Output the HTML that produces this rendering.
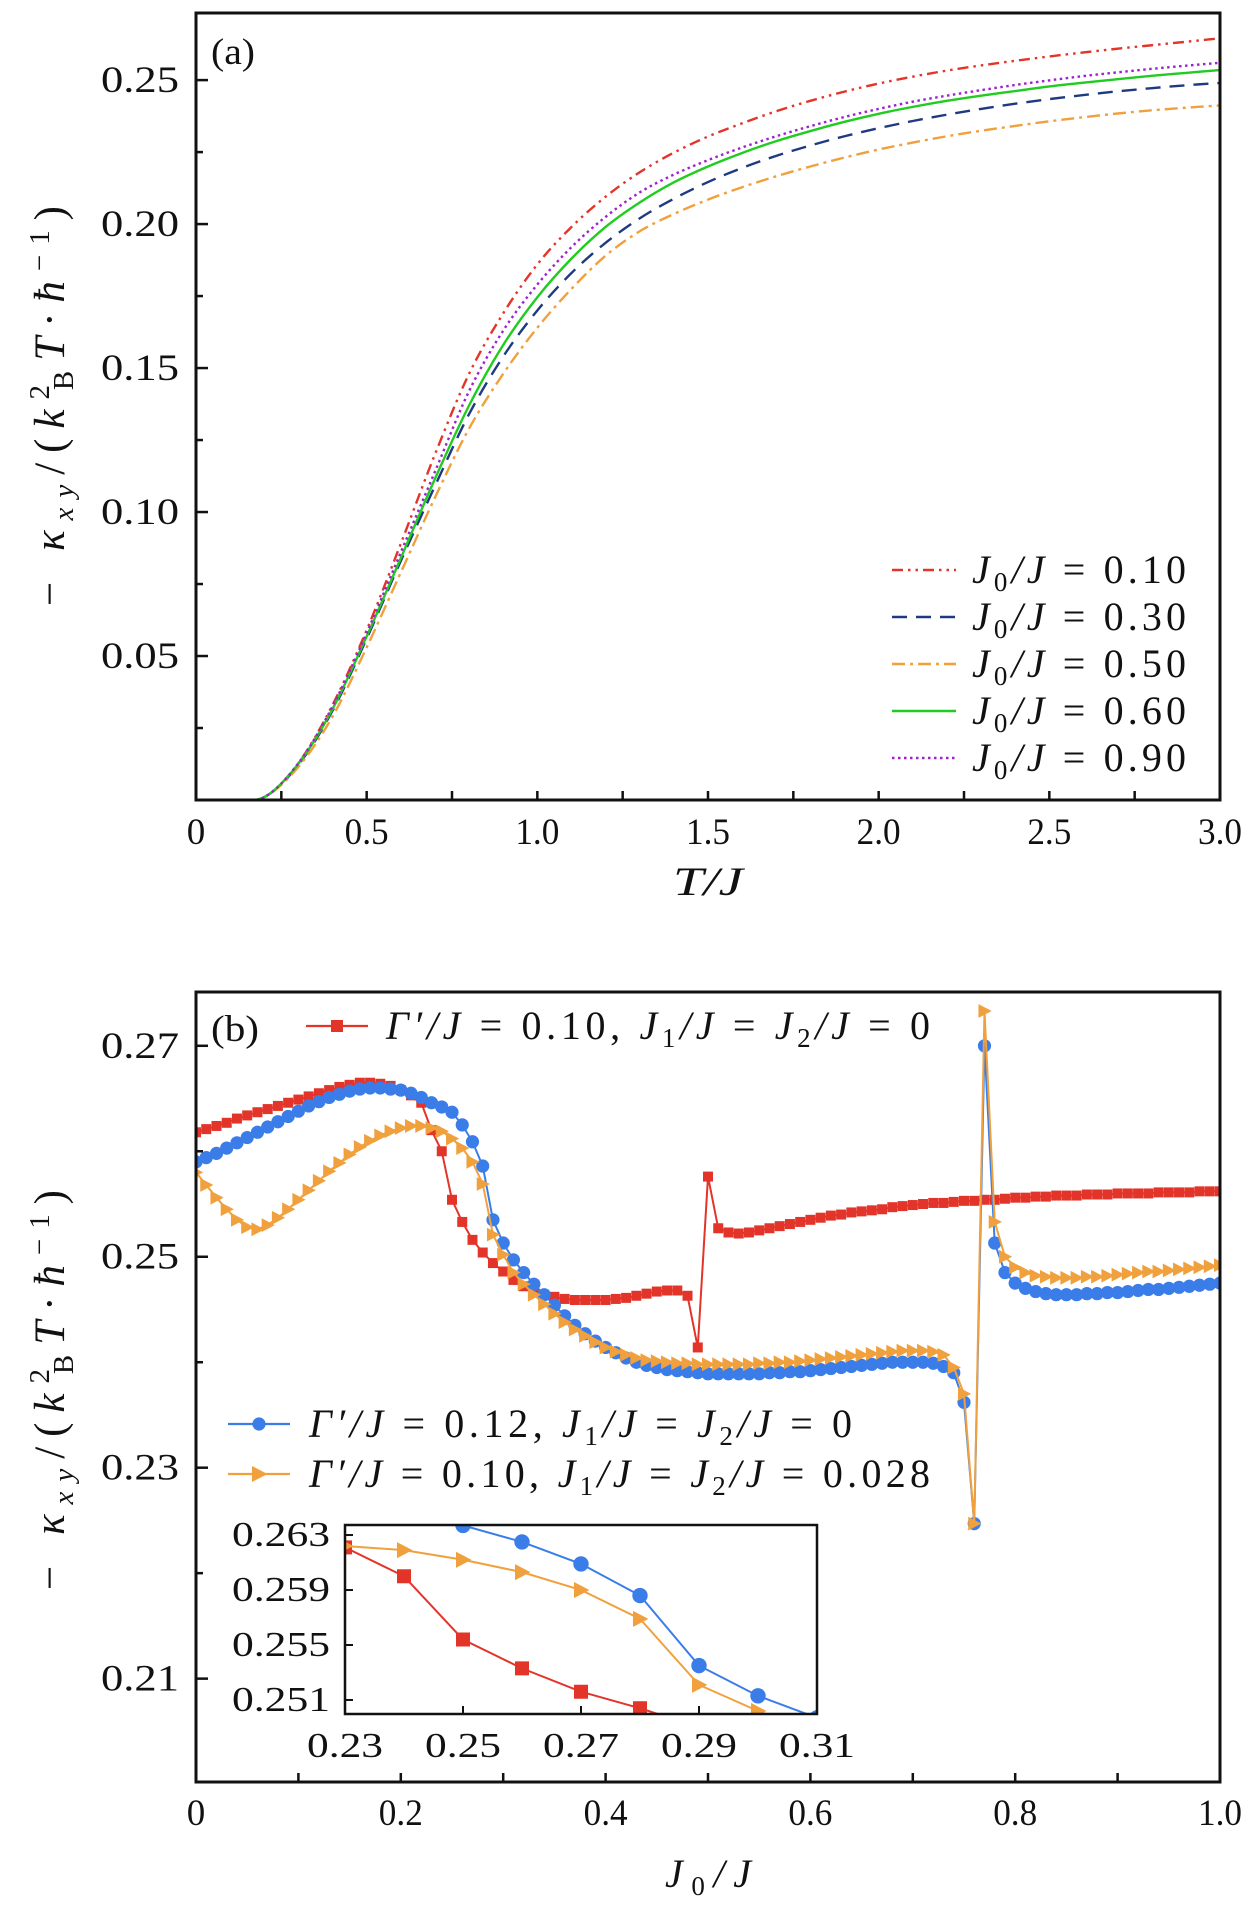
<!DOCTYPE html>
<html><head><meta charset="utf-8">
<style>
html,body{margin:0;padding:0;background:#fff;}
svg{display:block;font-family:"Liberation Serif",serif;}
</style></head>
<body>
<svg id="fig" width="1260" height="1905" viewBox="0 0 1260 1905" xmlns="http://www.w3.org/2000/svg">
  <rect width="1260" height="1905" fill="#fff"/>
  <defs>
    <clipPath id="clipA"><rect x="196" y="13" width="1024" height="787"/></clipPath>
    <clipPath id="clipB"><rect x="196" y="992" width="1024" height="790"/></clipPath>
    <clipPath id="clipI"><rect x="345" y="1525" width="472" height="189"/></clipPath>
  </defs>
  <g id="panelA"></g>
  <g id="panelB"></g>
  <g id="inset"></g>
</svg>
<script>
// ---------- Panel (a) data ----------
const tempsA = [0,0.1,0.2,0.3,0.4,0.5,0.6,0.7,0.8,0.9,1.0,1.1,1.2,1.3,1.4,1.5,1.6,1.7,1.8,1.9,2.0,2.1,2.2,2.3,2.4,2.5,2.6,2.7,2.8,2.9,3.0];
const kappaJ010 = [0,0,0.001,0.0128,0.033,0.059,0.089,0.120,0.148,0.169,0.186,0.199,0.2095,0.218,0.2248,0.2304,0.2350,0.2392,0.2428,0.2460,0.2488,0.2512,0.2533,0.2551,0.2567,0.2582,0.2596,0.2609,0.2621,0.2633,0.2645];
const kappaJ030 = [0,0,0.001,0.0122,0.031,0.056,0.083,0.109,0.134,0.154,0.170,0.183,0.1935,0.2020,0.2088,0.2146,0.2195,0.2237,0.2273,0.2305,0.2333,0.2358,0.2380,0.2400,0.2418,0.2434,0.2448,0.2461,0.2472,0.2482,0.2490];
const kappaJ050 = [0,0,0.001,0.0115,0.029,0.053,0.079,0.105,0.129,0.148,0.164,0.1775,0.189,0.1975,0.2035,0.2085,0.2128,0.2166,0.2200,0.2231,0.2259,0.2283,0.2305,0.2324,0.2341,0.2357,0.2371,0.2384,0.2395,0.2404,0.2412];
const kappaJ060 = [0,0,0.001,0.0126,0.0316,0.0568,0.084,0.1115,0.137,0.158,0.1746,0.188,0.1990,0.2075,0.2145,0.2200,0.2247,0.2288,0.2323,0.2355,0.2383,0.2407,0.2428,0.2446,0.2462,0.2478,0.2491,0.2503,0.2515,0.2525,0.2535];
const kappaJ090 = [0,0,0.001,0.0128,0.0325,0.058,0.086,0.114,0.142,0.163,0.179,0.192,0.2025,0.2110,0.2172,0.2222,0.2266,0.2305,0.2340,0.2372,0.2400,0.2425,0.2446,0.2465,0.2483,0.2499,0.2514,0.2527,0.2539,0.2550,0.2560];
const xTicksA = [0,0.5,1.0,1.5,2.0,2.5,3.0];
const xTickLabelsA = ["0","0.5","1.0","1.5","2.0","2.5","3.0"];
const yTicksA = [0.05,0.10,0.15,0.20,0.25];
const yTickLabelsA = ["0.05","0.10","0.15","0.20","0.25"];
const legendLabelsA = ["0.10","0.30","0.50","0.60","0.90"];

// ---------- Panel (b) data ----------
const j0Values = [];
for (let i = 0; i <= 100; i++) j0Values.push(+(i/100).toFixed(2));
const kappaRed = [0.2618,0.2621,0.2624,0.2627,0.2631,0.2634,0.2637,0.2640,0.2643,0.2646,0.2649,0.2652,0.2655,0.2658,0.2661,0.2663,0.2665,0.2665,0.2664,0.2662,0.2658,0.2653,0.2646,0.2620,0.2600,0.2554,0.2533,0.2516,0.2504,0.2494,0.2486,0.2478,0.2472,0.2467,0.2464,0.2462,0.2460,0.2459,0.2459,0.2459,0.2459,0.2460,0.2461,0.2463,0.2465,0.2467,0.2468,0.2468,0.2463,0.2414,0.2576,0.2527,0.2523,0.2522,0.2523,0.2525,0.2527,0.2529,0.2531,0.2533,0.2535,0.2537,0.2539,0.2540,0.2542,0.2543,0.2544,0.2545,0.2547,0.2548,0.2549,0.2550,0.2551,0.2551,0.2552,0.2553,0.2553,0.2554,0.2554,0.2555,0.2556,0.2556,0.2557,0.2557,0.2558,0.2558,0.2558,0.2559,0.2559,0.2559,0.2560,0.2560,0.2560,0.2560,0.2561,0.2561,0.2561,0.2561,0.2562,0.2562,0.2562];
const kappaBlue = [0.2590,0.2594,0.2598,0.2603,0.2608,0.2613,0.2618,0.2623,0.2628,0.2633,0.2638,0.2643,0.2647,0.2651,0.2654,0.2657,0.2659,0.2660,0.2660,0.2659,0.2658,0.2655,0.2651,0.2646,0.2642,0.2637,0.2625,0.2609,0.2586,0.2535,0.2513,0.2497,0.2485,0.2474,0.2464,0.2454,0.2444,0.2435,0.2427,0.2420,0.2414,0.2409,0.2404,0.2400,0.2397,0.2395,0.2393,0.2392,0.2391,0.2390,0.2389,0.2389,0.2389,0.2389,0.2389,0.2389,0.2390,0.2390,0.2391,0.2391,0.2392,0.2393,0.2394,0.2395,0.2396,0.2397,0.2398,0.2399,0.2400,0.2400,0.2400,0.2400,0.2399,0.2396,0.2390,0.2362,0.2247,0.2700,0.2513,0.2485,0.2475,0.2470,0.2467,0.2465,0.2464,0.2464,0.2464,0.2465,0.2465,0.2466,0.2466,0.2467,0.2468,0.2469,0.2469,0.2470,0.2471,0.2472,0.2473,0.2474,0.2475];
const kappaOrange = [0.2580,0.2568,0.2556,0.2545,0.2535,0.2528,0.2526,0.2530,0.2537,0.2545,0.2554,0.2563,0.2572,0.2581,0.2589,0.2597,0.2604,0.2610,0.2615,0.2619,0.2622,0.2624,0.2624,0.2622,0.2619,0.2612,0.2603,0.2590,0.2569,0.2521,0.2502,0.2485,0.2474,0.2464,0.2455,0.2446,0.2438,0.2431,0.2425,0.2419,0.2414,0.2410,0.2407,0.2404,0.2402,0.2401,0.2400,0.2399,0.2399,0.2398,0.2398,0.2398,0.2398,0.2398,0.2398,0.2399,0.2399,0.2400,0.2400,0.2401,0.2402,0.2403,0.2404,0.2405,0.2406,0.2407,0.2408,0.2409,0.2410,0.2411,0.2411,0.2411,0.2410,0.2407,0.2395,0.2370,0.2247,0.2733,0.2533,0.2500,0.2490,0.2485,0.2482,0.2481,0.2480,0.2480,0.2480,0.2481,0.2481,0.2482,0.2483,0.2484,0.2485,0.2486,0.2486,0.2487,0.2488,0.2489,0.2490,0.2491,0.2492];
const xTicksB = [0,0.2,0.4,0.6,0.8,1.0];
const xTickLabelsB = ["0","0.2","0.4","0.6","0.8","1.0"];
const yTicksB = [0.21,0.23,0.25,0.27];
const yTickLabelsB = ["0.21","0.23","0.25","0.27"];

// ---------- Inset data ----------
const insetX = [0.23,0.24,0.25,0.26,0.27,0.28,0.29,0.30,0.31];
const insetRed = [0.2621,0.2600,0.2554,0.2533,0.2516,0.2504,0.2490,0.2480,0.2472];
const insetBlue = [0.2660,0.2650,0.2637,0.2625,0.2609,0.2586,0.2535,0.2513,0.2497];
const insetOrange = [0.2622,0.2619,0.2612,0.2603,0.2590,0.2569,0.2521,0.2502,0.2485];
const xTicksI = [0.23,0.25,0.27,0.29,0.31];
const xTickLabelsI = ["0.23","0.25","0.27","0.29","0.31"];
const yTicksI = [0.251,0.255,0.259,0.263];
const yTickLabelsI = ["0.251","0.255","0.259","0.263"];

const NS = "http://www.w3.org/2000/svg";
const RED="#e3342a", BLUE="#3b7de8", ORANGE="#f0a03c", GREEN="#1fcc1f", NAVY="#1f3a80", PURPLE="#a020d0";
function mk(tag, attrs, parent){ const e=document.createElementNS(NS,tag); for(const k in attrs) e.setAttribute(k,attrs[k]); if(parent) parent.appendChild(e); return e; }

const A = {L:196,R:1220,T:13,B:800,x0:0,x1:3,y0:0,y1:0.2733};
const Bp = {L:196,R:1220,T:992,B:1782,x0:0,x1:1,y0:0.2002,y1:0.2751};
const I = {L:345,R:817,T:1525,B:1714,x0:0.23,x1:0.31,y0:0.24998,y1:0.26373};
function sx(ax,v){ return ax.L+(v-ax.x0)/(ax.x1-ax.x0)*(ax.R-ax.L); }
function sy(ax,v){ return ax.B-(v-ax.y0)/(ax.y1-ax.y0)*(ax.B-ax.T); }

function smoothPath(xs, ys, ax){
  const p = xs.map((x,i)=>[sx(ax,x), sy(ax,ys[i])]);
  let d = "M"+p[0][0].toFixed(2)+","+p[0][1].toFixed(2);
  for(let i=0;i<p.length-1;i++){
    const p0=p[Math.max(0,i-1)], p1=p[i], p2=p[i+1], p3=p[Math.min(p.length-1,i+2)];
    const c1x=p1[0]+(p2[0]-p0[0])/6, c1y=p1[1]+(p2[1]-p0[1])/6;
    const c2x=p2[0]-(p3[0]-p1[0])/6, c2y=p2[1]-(p3[1]-p1[1])/6;
    d+=" C"+c1x.toFixed(2)+","+c1y.toFixed(2)+" "+c2x.toFixed(2)+","+c2y.toFixed(2)+" "+p2[0].toFixed(2)+","+p2[1].toFixed(2);
  }
  return d;
}
function linePath(xs, ys, ax){ return xs.map((x,i)=>(i?"L":"M")+sx(ax,x).toFixed(2)+","+sy(ax,ys[i]).toFixed(2)).join(" "); }

function marker(g, type, cx, cy, color, s){
  let m;
  if(type==="square") m=mk("rect",{x:cx-s,y:cy-s,width:2*s,height:2*s,fill:color},g);
  else if(type==="circle") m=mk("circle",{cx:cx,cy:cy,r:s*1.1,fill:color},g);
  else m=mk("polygon",{points:(cx-s)+","+(cy-s*1.15)+" "+(cx+s*1.2)+","+cy+" "+(cx-s)+","+(cy+s*1.15),fill:color},g);
  return m;
}
function text(parent, x, y, size, anchor, len){
  const a={x:x,y:y,"font-size":size,"text-anchor":anchor||"start",fill:"#111"};
  if(len){ a.textLength=len; a.lengthAdjust="spacingAndGlyphs"; }
  return mk("text",a,parent);
}

// ---------- Panel A ----------
const ga = document.getElementById("panelA");
const curvesA = [
  {name:"curve-j0-0.10", ys:kappaJ010, color:RED, dash:"11,5,2.5,5,2.5,5"},
  {name:"curve-j0-0.30", ys:kappaJ030, color:NAVY, dash:"15,9"},
  {name:"curve-j0-0.50", ys:kappaJ050, color:ORANGE, dash:"13,5,3,5"},
  {name:"curve-j0-0.60", ys:kappaJ060, color:GREEN, dash:""},
  {name:"curve-j0-0.90", ys:kappaJ090, color:PURPLE, dash:"2.5,3.5"}
];
const gaC = mk("g",{"clip-path":"url(#clipA)"},ga);
curvesA.forEach(c=>{
  const p = mk("path",{d:smoothPath(tempsA,c.ys,A),fill:"none",stroke:c.color,"stroke-width":2.4,"stroke-dasharray":c.dash},gaC);
  
  
});
const boxA = mk("rect",{x:A.L,y:A.T,width:A.R-A.L,height:A.B-A.T,fill:"none",stroke:"#111","stroke-width":3},ga);


for(let v=0.25; v<3; v+=0.25){ const X=sx(A,v); mk("line",{x1:X,x2:X,y1:A.B,y2:A.B-9,stroke:"#111","stroke-width":2.5},ga); }
xTicksA.forEach((v,i)=>{ const t=text(ga,sx(A,v),844,37,"middle",xTickLabelsA[i].length>1?44:null); t.textContent=xTickLabelsA[i];
    });
for(let k=1;k<=10;k++){ const v=k*0.025; const Y=sy(A,v); const major=(k%2===0);
  mk("line",{x1:A.L,x2:A.L+(major?12:7),y1:Y,y2:Y,stroke:"#111","stroke-width":2.5},ga); }
yTicksA.forEach((v,i)=>{ const t=text(ga,179,sy(A,v)+12,37,"end",78); t.textContent=yTickLabelsA[i];
    });
const la = text(ga,211,64,37,"start",44); la.textContent="(a)";
 
const xta = mk("text",{x:708,y:895,"font-size":40,"text-anchor":"middle","font-style":"italic",fill:"#111",textLength:70,lengthAdjust:"spacingAndGlyphs"},ga);
xta.textContent="T/J";
 
const legA = mk("g",{},ga);
 
curvesA.forEach((c,i)=>{
  const y = 570+i*47;
  const g = mk("g",{},legA);
  
  
  mk("line",{x1:892,x2:956,y1:y,y2:y,stroke:c.color,"stroke-width":2.4,"stroke-dasharray":c.dash},g);
  const t = mk("text",{x:972,y:y+13,"font-size":40,fill:"#111",textLength:214,lengthAdjust:"spacing"},g);
  const a1=mk("tspan",{"font-style":"italic"},t); a1.textContent="J";
  const a2=mk("tspan",{"font-size":27,dy:8},t); a2.textContent="0";
  const a3=mk("tspan",{dy:-8,"font-style":"italic"},t); a3.textContent="/J";
  const a4=mk("tspan",{},t); a4.textContent=" = "+legendLabelsA[i];
});

function yTitle(parent, cx, cy, name){
  const t = mk("text",{x:0,y:0,"font-size":43,"text-anchor":"middle",fill:"#111",textLength:400,lengthAdjust:"spacing",transform:"translate("+cx+","+cy+") rotate(-90)"},parent);
   
  const parts = [["− ",{}],["κ",{"font-style":"italic"}],["xy",{"font-style":"italic","font-size":29,dy:9}],["/(",{dy:-9}],["k",{"font-style":"italic"}],["2",{"font-size":29,dy:-15}],["B",{"font-size":29,dx:-15,dy:24}],["T",{"font-style":"italic",dy:-9}],["·",{}],["ħ",{"font-style":"italic"}],["−1",{"font-size":29,dy:-15}],[")",{dy:15}]];
  parts.forEach(p=>{ const s=mk("tspan",p[1],t); s.textContent=p[0]; });
}
yTitle(ga, 64, 406, "y-axis-title-a");

// ---------- Panel B ----------
const gb = document.getElementById("panelB");
const gbC = mk("g",{"clip-path":"url(#clipB)"},gb);
const seriesB = [
  {name:"series-red-gamma-0.10", ys:kappaRed, color:RED, m:"square", s:5},
  {name:"series-blue-gamma-0.12", ys:kappaBlue, color:BLUE, m:"circle", s:6},
  {name:"series-orange-gamma-0.10-j1-0.028", ys:kappaOrange, color:ORANGE, m:"tri", s:6}
];
seriesB.forEach(sr=>{
  const g = mk("g",{},gbC);
  
  
  mk("path",{d:linePath(j0Values,sr.ys,Bp),fill:"none",stroke:sr.color,"stroke-width":2},g);
  j0Values.forEach((x,i)=>{
    const m = marker(g, sr.m, sx(Bp,x), sy(Bp,sr.ys[i]), sr.color, sr.s);
    
    
  });
});
const boxB = mk("rect",{x:Bp.L,y:Bp.T,width:Bp.R-Bp.L,height:Bp.B-Bp.T,fill:"none",stroke:"#111","stroke-width":3},gb);
 
for(let k=1;k<10;k++){ const X=sx(Bp,k/10); mk("line",{x1:X,x2:X,y1:Bp.B,y2:Bp.B-9,stroke:"#111","stroke-width":2.5},gb); }
xTicksB.forEach((v,i)=>{ const t=text(gb,sx(Bp,v),1825,37,"middle",xTickLabelsB[i].length>1?44:null); t.textContent=xTickLabelsB[i];
    });
for(let k=21;k<=27;k++){ const Y=sy(Bp,k/100); const major=(k%2===1);
  mk("line",{x1:Bp.L,x2:Bp.L+(major?12:7),y1:Y,y2:Y,stroke:"#111","stroke-width":2.5},gb); }
yTicksB.forEach((v,i)=>{ const t=text(gb,179,sy(Bp,v)+12,37,"end",78); t.textContent=yTickLabelsB[i];
    });
const lb = text(gb,211,1041,37,"start",48); lb.textContent="(b)";
 
const xtb = mk("text",{x:708,y:1887,"font-size":40,"text-anchor":"middle","font-style":"italic",fill:"#111",textLength:86,lengthAdjust:"spacing"},gb);
 
{ const a=mk("tspan",{},xtb); a.textContent="J"; const b=mk("tspan",{"font-size":27,dy:8,"font-style":"normal"},xtb); b.textContent="0"; const c=mk("tspan",{dy:-8},xtb); c.textContent="/J"; }
yTitle(gb, 64, 1390, "y-axis-title-b");

function legendB(x1,x2,y,color,m,s,tx,gam,jval,len,name){
  const g = mk("g",{},gb);
   
  mk("line",{x1:x1,x2:x2,y1:y,y2:y,stroke:color,"stroke-width":2.2},g);
  marker(g,m,(x1+x2)/2,y,color,s);
  const t = mk("text",{x:tx,y:y+13,"font-size":40,fill:"#111",textLength:len,lengthAdjust:"spacing"},g);
  const parts=[["Γ′/J",{"font-style":"italic"}],[" = "+gam+",  ",{}],["J",{"font-style":"italic"}],["1",{"font-size":27,dy:8}],["/J",{"font-style":"italic",dy:-8}],[" = ",{}],["J",{"font-style":"italic"}],["2",{"font-size":27,dy:8}],["/J",{"font-style":"italic",dy:-8}],[" = "+jval,{}]];
  parts.forEach(p=>{ const sp=mk("tspan",p[1],t); sp.textContent=p[0]; });
}
legendB(306,368,1026,RED,"square",6,386,"0.10","0",544,"legend-entry-red");
legendB(228,290,1424,BLUE,"circle",6,309,"0.12","0",543,"legend-entry-blue");
legendB(228,290,1474,ORANGE,"tri",7,309,"0.10","0.028",621,"legend-entry-orange");

// ---------- Inset ----------
const gi = document.getElementById("inset");
mk("rect",{x:I.L,y:I.T,width:I.R-I.L,height:I.B-I.T,fill:"#fff"},gi);
const giC = mk("g",{"clip-path":"url(#clipI)"},gi);
[
  {name:"inset-series-red", ys:insetRed, color:RED, m:"square", s:7},
  {name:"inset-series-blue", ys:insetBlue, color:BLUE, m:"circle", s:7},
  {name:"inset-series-orange", ys:insetOrange, color:ORANGE, m:"tri", s:7}
].forEach(sr=>{
  const g = mk("g",{},giC);
  
  
  mk("path",{d:linePath(insetX,sr.ys,I),fill:"none",stroke:sr.color,"stroke-width":2},g);
  insetX.forEach((x,i)=>{
    const m = marker(g, sr.m, sx(I,x), sy(I,sr.ys[i]), sr.color, sr.s);
    
    
  });
});
const boxI = mk("rect",{x:I.L,y:I.T,width:I.R-I.L,height:I.B-I.T,fill:"none",stroke:"#111","stroke-width":2.5},gi);
 
xTicksI.forEach((v,i)=>{ const X=sx(I,v); mk("line",{x1:X,x2:X,y1:I.B,y2:I.B-8,stroke:"#111","stroke-width":2},gi);
  const t=text(gi,X,1757,35,"middle",76); t.textContent=xTickLabelsI[i];
    });
yTicksI.forEach((v,i)=>{ const Y=sy(I,v); mk("line",{x1:I.L,x2:I.L+8,y1:Y,y2:Y,stroke:"#111","stroke-width":2},gi);
  const t=text(gi,330,Y+11,35,"end",98); t.textContent=yTickLabelsI[i];
    });
</script>
</body></html>
